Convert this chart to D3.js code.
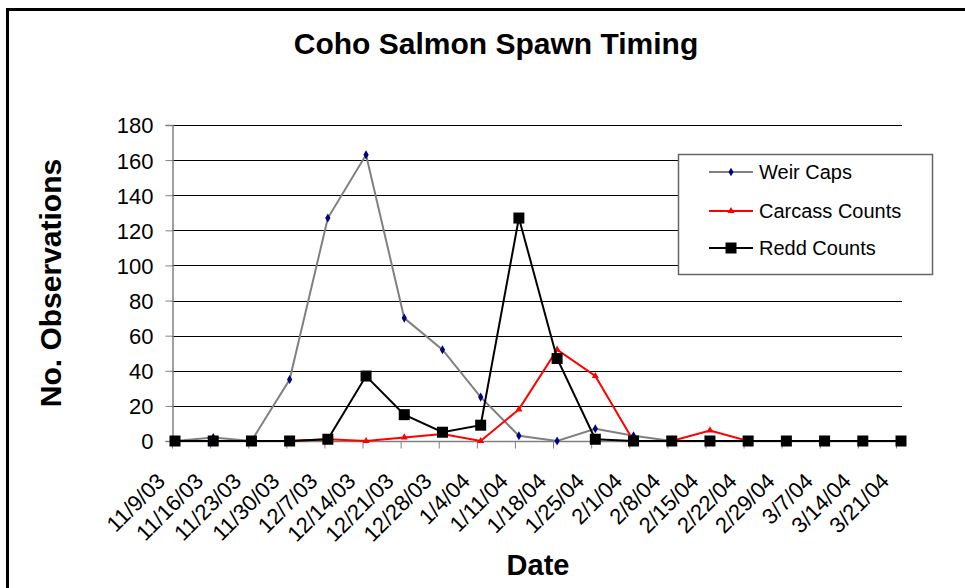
<!doctype html>
<head>
  <title>Coho Salmon Spawn Timing</title>
</head>
<style>
  body { margin: 0; background: white; }
  svg text { font-family: "Liberation Sans", Arial, sans-serif; }
</style>
<body>
  <script src="https://d3js.org/d3.v7.min.js"></script>

  <svg id="chart" width="965" height="588"></svg>

  <script>

  // data
  const dates = ["11/9/03", "11/16/03", "11/23/03", "11/30/03", "12/7/03", "12/14/03", "12/21/03",
                 "12/28/03", "1/4/04", "1/11/04", "1/18/04", "1/25/04", "2/1/04", "2/8/04",
                 "2/15/04", "2/22/04", "2/29/04", "3/7/04", "3/14/04", "3/21/04"];

  const weirCaps      = [0, 2, 0, 35, 127, 163, 70, 52, 25, 3, 0, 7, 3, 0, 0, 0, 0, 0, 0, 0];
  const carcassCounts = [0, 0, 0, 0, 1, 0, 2, 4, 0, 18, 52, 37, 0, 0, 6, 0, 0, 0, 0, 0];
  const reddCounts    = [0, 0, 0, 0, 1, 37, 15, 5, 9, 127, 47, 1, 0, 0, 0, 0, 0, 0, 0, 0];

  const seriesNames = ["Weir Caps", "Carcass Counts", "Redd Counts"];
  const yTicks = [0, 20, 40, 60, 80, 100, 120, 140, 160, 180];

  let svg = d3.select("#chart");

  // outer frame
  svg.append("rect")
    .attr("x", 7.5).attr("y", 9.5)
    .attr("width", 1000).attr("height", 600)
    .attr("fill", "none")
    .attr("stroke", "black")
    .attr("stroke-width", 3);

  let plotLeft = 172, plotRight = 902, plotTop = 125, plotBottom = 441;

  // points sit a little right of the tick marks, like in the original
  let x = d3.scalePoint()
    .domain(dates)
    .range([175, 901]);

  let xTick = d3.scalePoint()
    .domain(dates)
    .range([172, 896]);

  let y = d3.scaleLinear()
    .domain([0, 180])
    .range([plotBottom, plotTop]);

  // gridlines
  svg.append("g")
    .selectAll("line")
    .data(yTicks.filter(d => d > 0))
    .enter()
    .append("line")
    .attr("x1", plotLeft).attr("x2", plotRight)
    .attr("y1", d => Math.round(y(d)) + .5)
    .attr("y2", d => Math.round(y(d)) + .5)
    .attr("stroke", "black")
    .attr("stroke-width", 1);

  // y axis
  let yAxis = svg.append("g")
    .attr("transform", "translate(" + (plotLeft + .5) + ",0)")
    .call(d3.axisLeft(y).tickValues(yTicks).tickSize(7).tickPadding(12));
  yAxis.select(".domain").attr("stroke", "#808080").attr("stroke-width", 1.5);
  yAxis.selectAll(".tick line").attr("stroke", "#808080");
  yAxis.selectAll(".tick text")
    .attr("font-size", 22)
    .attr("fill", "black")
    .attr("dy", "0.36em");

  // x axis
  let xAxis = svg.append("g")
    .attr("transform", "translate(0," + (plotBottom + .5) + ")")
    .call(d3.axisBottom(xTick).tickSize(7).tickSizeOuter(0));
  xAxis.select(".domain").attr("stroke", "#808080").attr("stroke-width", 1.5)
    .attr("d", "M" + plotLeft + ",0H" + plotRight);
  xAxis.selectAll(".tick line").attr("stroke", "#808080");
  xAxis.selectAll(".tick text")
    .attr("font-size", 22)
    .attr("fill", "black")
    .attr("text-anchor", "end")
    .attr("dy", 0)
    .attr("y", 0)
    .attr("transform", "translate(-6,41) rotate(-45)");

  // lines
  let line = d3.line()
    .x((d, i) => x(dates[i]))
    .y(d => y(d));

  svg.append("path")
    .attr("d", line(weirCaps))
    .attr("fill", "none")
    .attr("stroke", "#808080")
    .attr("stroke-width", 2);

  svg.append("g")
    .selectAll("path")
    .data(weirCaps)
    .enter()
    .append("path")
    .attr("d", d3.symbol().type(d3.symbolDiamond).size(24))
    .attr("transform", (d, i) => "translate(" + x(dates[i]) + "," + y(d) + ")")
    .attr("fill", "#000080");

  svg.append("path")
    .attr("d", line(carcassCounts))
    .attr("fill", "none")
    .attr("stroke", "#ff0000")
    .attr("stroke-width", 2);

  svg.append("g")
    .selectAll("path")
    .data(carcassCounts)
    .enter()
    .append("path")
    .attr("d", d3.symbol().type(d3.symbolTriangle).size(22))
    .attr("transform", (d, i) => "translate(" + x(dates[i]) + "," + y(d) + ")")
    .attr("fill", "#ff0000");

  svg.append("path")
    .attr("d", line(reddCounts))
    .attr("fill", "none")
    .attr("stroke", "black")
    .attr("stroke-width", 2);

  svg.append("g")
    .selectAll("rect")
    .data(reddCounts)
    .enter()
    .append("rect")
    .attr("x", (d, i) => x(dates[i]) - 5.5)
    .attr("y", d => y(d) - 5.5)
    .attr("width", 11).attr("height", 11)
    .attr("fill", "black");

  // legend
  let legend = svg.append("g");
  legend.append("rect")
    .attr("x", 678.5).attr("y", 154.5)
    .attr("width", 254).attr("height", 120)
    .attr("fill", "white")
    .attr("stroke", "#666")
    .attr("stroke-width", 1.5);

  let legendColors = ["#808080", "#ff0000", "black"];
  let legendRows = legend.selectAll("g.row")
    .data(seriesNames)
    .enter()
    .append("g")
    .attr("class", "row")
    .attr("transform", (d, i) => "translate(0," + [172, 211, 248][i] + ")");

  legendRows.append("line")
    .attr("x1", 709).attr("x2", 753)
    .attr("stroke", (d, i) => legendColors[i])
    .attr("stroke-width", 2);

  legendRows.append("path")
    .attr("d", (d, i) => i == 2 ? "M-5.5,-5.5h11v11h-11z"
      : d3.symbol().type(i == 0 ? d3.symbolDiamond : d3.symbolTriangle).size(22)())
    .attr("transform", "translate(731,0)")
    .attr("fill", (d, i) => ["#000080", "#ff0000", "black"][i]);

  legendRows.append("text")
    .attr("x", 759)
    .attr("y", 7)
    .attr("font-size", 20)
    .text(d => d);

  // titles
  svg.append("text")
    .attr("x", 496).attr("y", 54)
    .attr("text-anchor", "middle")
    .attr("font-size", 30)
    .attr("font-weight", "bold")
    .text("Coho Salmon Spawn Timing");

  svg.append("text")
    .attr("transform", "translate(61,283) rotate(-90)")
    .attr("text-anchor", "middle")
    .attr("font-size", 30)
    .attr("font-weight", "bold")
    .text("No. Observations");

  svg.append("text")
    .attr("x", 538).attr("y", 575)
    .attr("text-anchor", "middle")
    .attr("font-size", 29)
    .attr("font-weight", "bold")
    .text("Date");

  </script>
</body>
